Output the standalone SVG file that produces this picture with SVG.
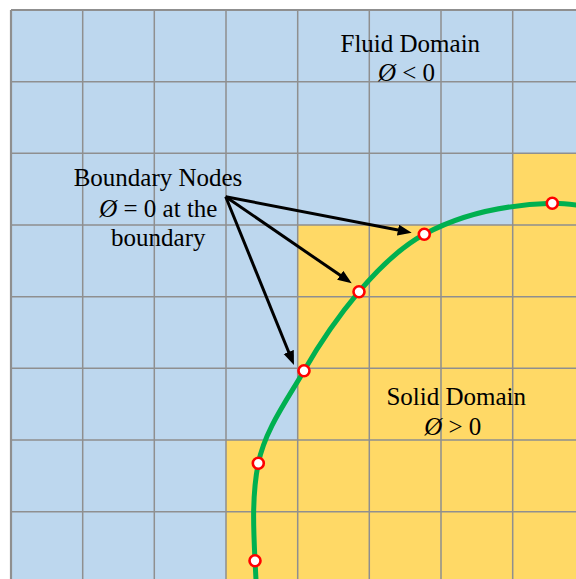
<svg xmlns="http://www.w3.org/2000/svg" width="576" height="579" viewBox="0 0 576 579">
<style>
.grid{stroke:#8f8f8f;stroke-width:1.5;fill:none}
.lbl{font-family:"Liberation Serif","Times New Roman",serif;font-size:25px;fill:#000;text-anchor:middle}
.phi{font-style:italic}
.bn{fill:#fff;stroke:#ff0000;stroke-width:2.6}
.arr{stroke:#000;stroke-width:3;fill:none;marker-end:url(#ah)}
</style>
<defs>
<marker id="ah" markerUnits="userSpaceOnUse" markerWidth="16" markerHeight="12" refX="4" refY="5.5" orient="auto">
<path d="M0,0 L14,5.5 L0,11 Z" fill="#000"/>
</marker>
</defs>
<rect width="576" height="579" fill="#fff"/>
<g id="fluid-domain-area">
<rect x="11" y="10" width="570" height="575" fill="#bdd7ee"/>
</g>
<g id="solid-domain-area">
<path d="M512.7,153.3 H580 V585 H226 V440 H297.7 V225 H512.7 Z" fill="#ffd966"/>
</g>
<g id="grid" class="grid">
<path d="M11,10 V585 M82.7,10 V585 M154.3,10 V585 M226,10 V585 M297.7,10 V585 M369.3,10 V585 M441,10 V585 M512.7,10 V585"/>
<path d="M11,10 H580 M11,81.7 H580 M11,153.3 H580 M11,225 H580 M11,296.7 H580 M11,368.3 H580 M11,440 H580 M11,511.7 H580"/>
<path d="M11,10 V585 M11,10 H580" stroke-width="2.2"/>
</g>
<g id="boundary-curve">
<path d="M600,209 C584,206 568,202.8 552,203.3 C508.2,204.6 462.8,213.4 424.3,234.3 C398.8,248.2 377.7,269.5 359,291.7 C338.3,316.3 320,342.9 304,370.7 C286.8,400.5 265.1,429.6 258.3,463.3 C251.9,495.2 253.4,528.2 255,560.7 C255.6,573 256.5,588 257,600" fill="none" stroke="#00b050" stroke-width="5"/>
</g>
<g id="connectors">
<line class="arr" x1="225.7" y1="196.7" x2="401.9" y2="230.8"/>
<line class="arr" x1="225.7" y1="196.7" x2="343.5" y2="277.6"/>
<line class="arr" x1="225.7" y1="196.7" x2="290.2" y2="355.7"/>
</g>
<g id="node1"><circle class="bn" cx="552.3" cy="203.3" r="5.5"/></g>
<g id="node2"><circle class="bn" cx="424.3" cy="234.3" r="5.5"/></g>
<g id="node3"><circle class="bn" cx="359" cy="291.7" r="5.5"/></g>
<g id="node4"><circle class="bn" cx="304" cy="370.7" r="5.5"/></g>
<g id="node5"><circle class="bn" cx="258.3" cy="463.3" r="5.5"/></g>
<g id="node6"><circle class="bn" cx="255" cy="560.7" r="5.5"/></g>
<g id="label-fluid">
<text class="lbl" x="410.3" y="51.5">Fluid Domain</text>
<text class="lbl" x="406.5" y="81"><tspan class="phi">Ø</tspan> &lt; 0</text>
</g>
<g id="label-boundary">
<text class="lbl" x="158" y="186">Boundary Nodes</text>
<text class="lbl" x="158.3" y="216.7"><tspan class="phi">Ø</tspan> = 0 at the</text>
<text class="lbl" x="158.3" y="245.5">boundary</text>
</g>
<g id="label-solid">
<text class="lbl" x="456.2" y="405">Solid Domain</text>
<text class="lbl" x="452.8" y="435"><tspan class="phi">Ø</tspan> &gt; 0</text>
</g>
</svg>
